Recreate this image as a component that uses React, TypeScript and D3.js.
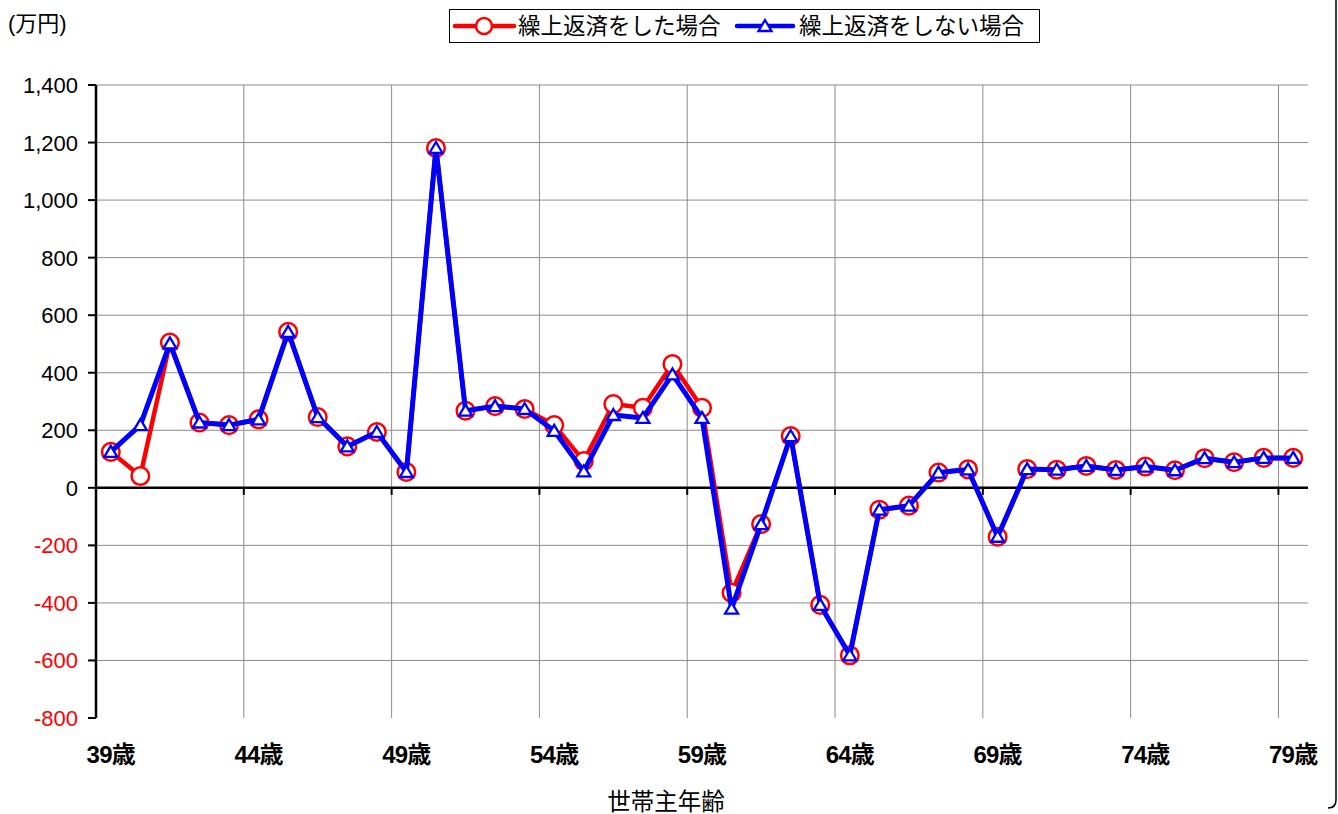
import React from "react";
import * as d3 from "d3";

const ages: number[] = d3.range(39, 80);
const withPrepay: number[] = [125, 41, 505, 227, 218, 238, 542, 246, 144, 194, 55, 1181, 268, 284, 274, 218, 93, 291, 278, 430, 278, -365, -126, 180, -407, -582, -76, -62, 53, 64, -170, 65, 63, 76, 62, 74, 61, 103, 89, 104, 104];
const withoutPrepay: number[] = [125, 218, 502, 227, 218, 238, 542, 246, 144, 194, 55, 1181, 268, 284, 274, 198, 57, 253, 243, 394, 243, -420, -126, 180, -407, -582, -76, -62, 53, 64, -170, 65, 63, 76, 62, 74, 61, 103, 89, 104, 104];
const yTicks: number[] = [-800, -600, -400, -200, 0, 200, 400, 600, 800, 1000, 1200, 1400];
const seriesNames: string[] = ["繰上返済をした場合", "繰上返済をしない場合"];
const unitLabel = "(万円)";
const xTitle = "世帯主年齢";

const W = 1338, H = 814;
const left = 96, right = 1308, top = 85, bottom = 718;

export default function App() {
  const x = d3.scaleBand<number>().domain(ages).range([left, right]);
  const y = d3.scaleLinear().domain([-800, 1400]).range([bottom, top]);
  const cx = (a: number) => (x(a) as number) + x.bandwidth() / 2;
  const f = d3.format(",");
  const fmt = (t: number) => (t < 0 ? "-" + f(-t) : f(t));
  const line = d3.line<number>().x((_, i) => cx(ages[i])).y((v) => y(v));
  const boundaries = ages.filter((_, i) => i > 0 && i % 5 === 0).map((a) => x(a) as number);
  const labelAges = ages.filter((_, i) => i % 5 === 0);
  const tri = "M0,-6L6.5,5L-6.5,5Z";
  const font = "'Liberation Sans', Arial, 'Noto Sans CJK JP', sans-serif";
  return (
    <svg width={W} height={H} style={{ position: "absolute", left: 0, top: 0, background: "#fff" }} fontFamily={font}>
      <path d={`M1336,-2 L1336,800 Q1336,808 1328,808`} fill="none" stroke="#000" strokeWidth={1.5} />
      {yTicks.filter((t) => t !== 0 && t !== -800).map((t) => (
        <line key={"h" + t} x1={left} x2={right} y1={y(t)} y2={y(t)} stroke="#8c8c8c" strokeWidth={1} />
      ))}
      {boundaries.map((bx, i) => (
        <line key={"v" + i} x1={bx} x2={bx} y1={top} y2={bottom} stroke="#8c8c8c" strokeWidth={1} />
      ))}
      <line x1={left} x2={left} y1={top} y2={bottom} stroke="#000" strokeWidth={2.5} />
      {yTicks.map((t) => (
        <g key={"t" + t}>
          <line x1={left - 8} x2={left} y1={y(t)} y2={y(t)} stroke="#000" strokeWidth={2} />
          <text x={78} y={y(t) + 8} textAnchor="end" fontSize={22} fill={t < 0 ? "#ff0000" : "#000"}>
            {fmt(t)}
          </text>
        </g>
      ))}
      <line x1={left} x2={right} y1={y(0)} y2={y(0)} stroke="#000" strokeWidth={2.5} />
      {boundaries.map((bx, i) => (
        <line key={"xt" + i} x1={bx} x2={bx} y1={y(0)} y2={y(0) + 7} stroke="#000" strokeWidth={2} />
      ))}
      {labelAges.map((a) => (
        <text key={"xl" + a} x={cx(a)} y={763} textAnchor="middle" fontSize={24} fontWeight="bold" letterSpacing={-0.8}>
          {a}歳
        </text>
      ))}
      <text x={666} y={810} textAnchor="middle" fontSize={23.5}>{xTitle}</text>
      <text x={8} y={31} fontSize={22}>{unitLabel}</text>
      <path d={line(withPrepay) || ""} fill="none" stroke="#ff0000" strokeWidth={4.5} strokeLinejoin="round" />
      {withPrepay.map((v, i) => (
        <circle key={"c" + i} cx={cx(ages[i])} cy={y(v)} r={8.8} fill="#fff" stroke="#ff0000" strokeWidth={2.5} />
      ))}
      <path d={line(withoutPrepay) || ""} fill="none" stroke="#0000ff" strokeWidth={5} strokeLinejoin="round" />
      {withoutPrepay.map((v, i) => (
        <path key={"tr" + i} d={tri} transform={`translate(${cx(ages[i])},${y(v)})`} fill="#fff" stroke="#0000ff" strokeWidth={2.3} />
      ))}
      <rect x={449.5} y={9.5} width={590} height={33} fill="#fff" stroke="#000" strokeWidth={1} />
      <line x1={455} x2={514} y1={26} y2={26} stroke="#ff0000" strokeWidth={4.5} strokeLinecap="round" />
      <circle cx={484} cy={26} r={8} fill="#fff" stroke="#ff0000" strokeWidth={2.5} />
      <text x={518} y={34} fontSize={22.5}>{seriesNames[0]}</text>
      <line x1={737} x2={793} y1={26} y2={26} stroke="#0000ff" strokeWidth={4.5} strokeLinecap="round" />
      <path d={tri} transform="translate(765,26)" fill="#fff" stroke="#0000ff" strokeWidth={2.3} />
      <text x={799} y={34} fontSize={22.5}>{seriesNames[1]}</text>
    </svg>
  );
}
